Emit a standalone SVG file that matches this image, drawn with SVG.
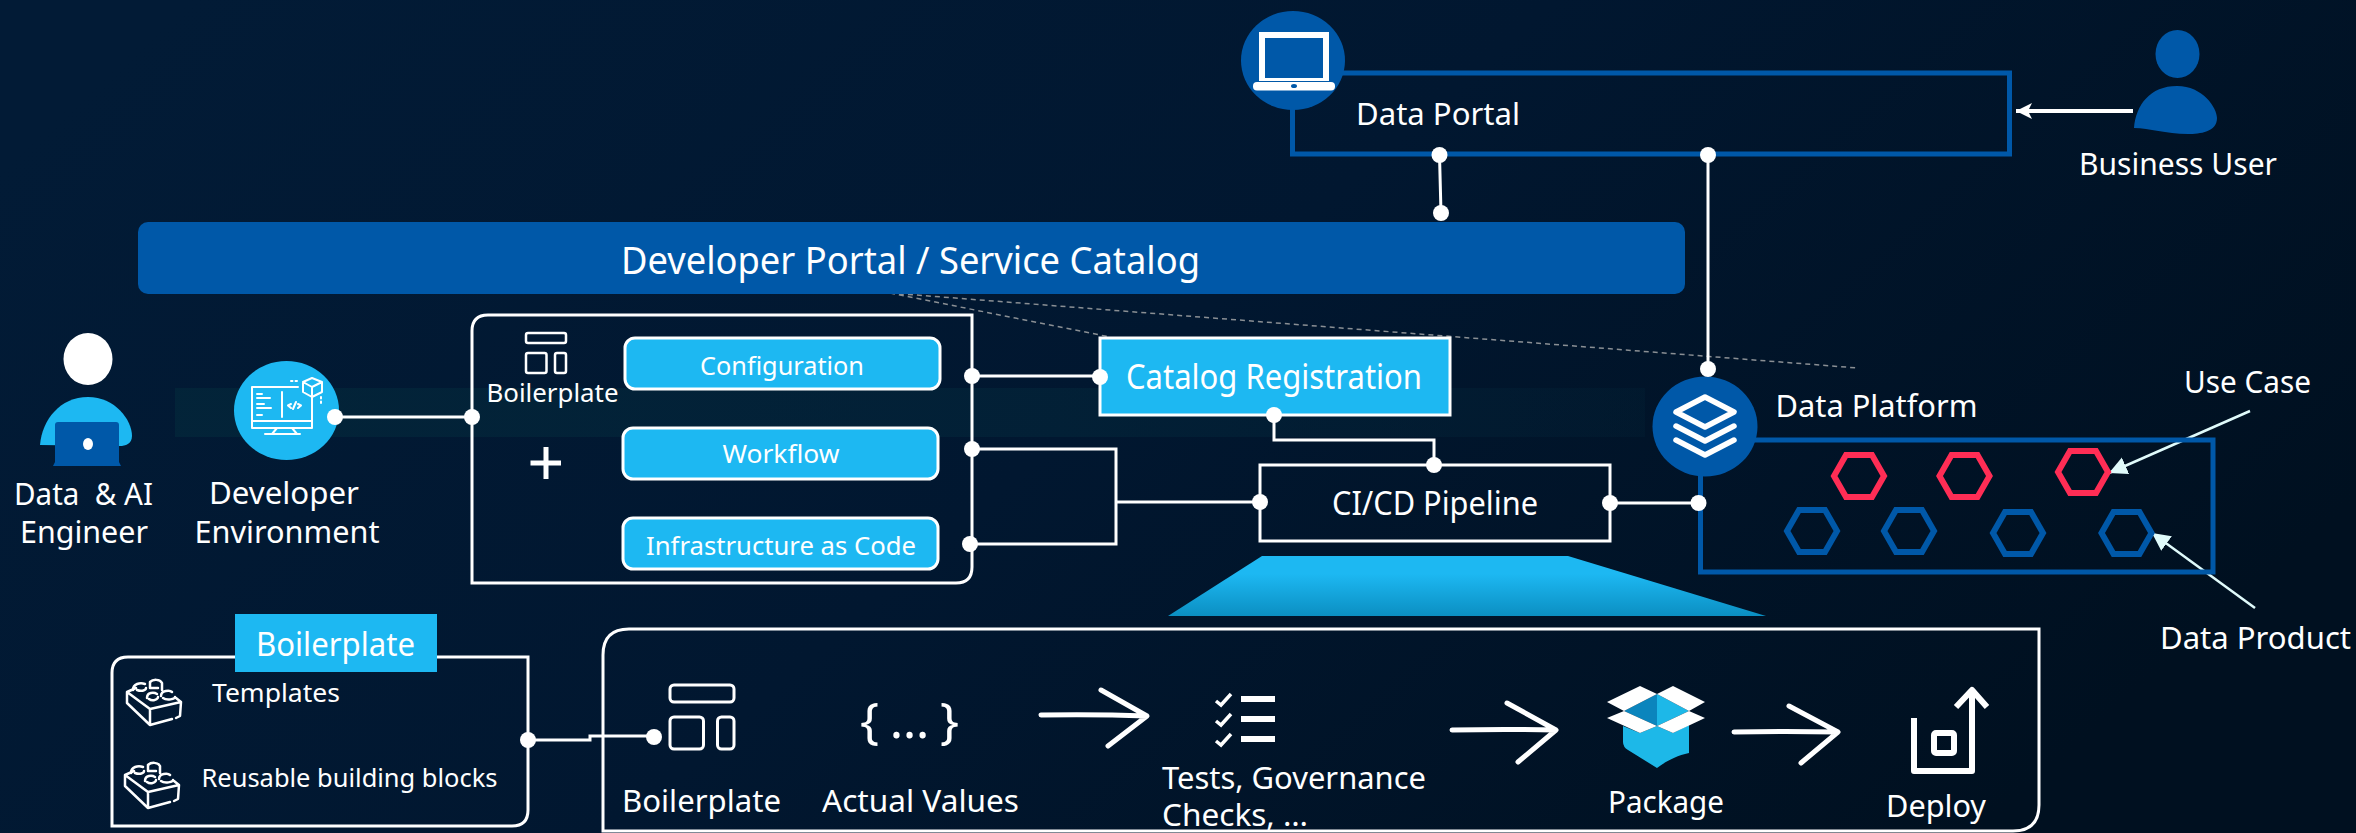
<svg xmlns="http://www.w3.org/2000/svg" width="2356" height="833" viewBox="0 0 2356 833">
<style>
text{font-family:"Noto Sans","Open Sans","Liberation Sans",sans-serif;font-weight:400;fill:#fff;white-space:pre}
.box{fill:none;stroke:#fff;stroke-width:3}
.pill{fill:#1db8f2;stroke:#fff;stroke-width:3}
.blue{fill:none;stroke:#0058a8;stroke-width:5}
.hexr{fill:none;stroke:#ff2d55;stroke-width:6}
.hexb{fill:none;stroke:#0058a8;stroke-width:6}
.line{fill:none;stroke:#fff;stroke-width:3}
.dot{fill:#fff}
.dash{stroke:#8a8f94;stroke-width:1.5;stroke-dasharray:5 4;fill:none}
.ic{fill:none;stroke:#fff;stroke-width:3;stroke-linecap:round;stroke-linejoin:round}
.hand{fill:none;stroke:#fff;stroke-width:5;stroke-linecap:round;stroke-linejoin:round}
</style>
<defs>
<linearGradient id="bg" x1="0" y1="0.2" x2="1" y2="0.6"><stop offset="0" stop-color="#021b36"/><stop offset="0.5" stop-color="#011730"/><stop offset="1" stop-color="#001020"/></linearGradient>
<linearGradient id="trap" x1="0" y1="0" x2="0" y2="1"><stop offset="0.3" stop-color="#1db8f2"/><stop offset="1" stop-color="#0b8fc2"/></linearGradient>
<linearGradient id="band"><stop offset="0" stop-color="#03263a" stop-opacity="0.8"/><stop offset="0.6" stop-color="#03263a" stop-opacity="0.6"/><stop offset="1" stop-color="#03263a" stop-opacity="0.25"/></linearGradient>
<marker id="ah" markerUnits="userSpaceOnUse" markerWidth="18" markerHeight="18" refX="16" refY="8" orient="auto"><path d="M0 0L16 8L0 16L4 8Z" fill="#fff"/></marker>
<marker id="ac" markerUnits="userSpaceOnUse" markerWidth="20" markerHeight="20" refX="18" refY="9" orient="auto"><path d="M0 0L18 9L0 18Z" fill="#e0fbfb"/></marker>
<path id="hex" d="M-13 -21H13L25 0L13 21H-13L-25 0Z"/>
<g id="lego" class="ic" style="stroke-width:2.500">
<path d="M136 688L127 692V703L150 725L172 719M176 718L180 716L181 702L176 698M150 725V709L127 692M150 709L181 702"/>
<path d="M133 690C133 684 140 682 145 684M137 690C142 692 146 690 146 688M150 682C153 679 160 679 162 683V690M150 682V688H158M147 698C147 692 154 692 157 694M149 699C153 702 158 699 158 697M161 696C161 690 170 690 172 692M163 698C167 701 175 699 175 697"/>
</g>
</defs>
<rect width="2356" height="833" fill="url(#bg)"/>
<rect x="175" y="388" width="1470" height="49" fill="url(#band)"/>
<polygon points="1262,556 1568,556 1766,616 1168,616" fill="url(#trap)"/>

<g id="connectors">
<path class="dash" d="M890 293L1110 337M890 293L1858 368"/>
<path class="line" d="M1439.500 155L1441 213M1708 155V369"/>
<path class="line" d="M335 417H472"/>
<path class="line" d="M972 376H1100"/>
<path class="line" d="M972 449H1116V544H970M1116 502H1260"/>
<path class="line" d="M1274 415V440H1434V465"/>
<path class="line" d="M1610 503H1698"/>
<path class="line" d="M528 740H590V736H654"/>
<path d="M2133 111H2016" stroke="#fff" stroke-width="4" fill="none" marker-end="url(#ah)"/>
<path d="M2250 411L2109 473" stroke="#e0fbfb" stroke-width="2.500" fill="none" marker-end="url(#ac)"/>
<path d="M2255 608L2152 533" stroke="#e0fbfb" stroke-width="2.500" fill="none" marker-end="url(#ac)"/>
</g>

<g id="data-portal">
<rect class="blue" x="1292.500" y="73" width="717" height="81"/>
<ellipse cx="1293" cy="60.500" rx="52" ry="49.500" fill="#0058a8"/>
<path d="M1259 32H1329V81H1259ZM1265 38V78H1323V38Z" fill="#fff" fill-rule="evenodd"/>
<rect x="1253" y="82" width="82" height="8.500" rx="4" fill="#fff"/>
<ellipse cx="1294" cy="86" rx="3" ry="2" fill="#0058a8"/>
<text x="1356" y="125" font-size="30" textLength="164" lengthAdjust="spacingAndGlyphs">Data Portal</text>
</g>

<g id="business-user">
<ellipse cx="2177.500" cy="54" rx="22" ry="24" fill="#0058a8"/>
<path d="M2134 128C2136 105 2150 86 2177 86C2203 86 2217 108 2217 118C2217 132 2200 134 2188 134C2165 134 2150 128 2134 128Z" fill="#0058a8"/>
<text x="2079" y="175" font-size="30" textLength="198" lengthAdjust="spacingAndGlyphs">Business User</text>
</g>

<g id="developer-portal">
<rect x="138" y="222" width="1547" height="72" rx="10" fill="#0058a8"/>
<text x="621" y="274" font-size="38" textLength="579" lengthAdjust="spacingAndGlyphs">Developer Portal / Service Catalog</text>
</g>

<g id="engineer">
<ellipse cx="88" cy="359" rx="24.500" ry="26" fill="#fff"/>
<path d="M40 445C42 420 60 397 88 397C115 397 132 420 132 436C132 444 125 446 120 446Z" fill="#1db8f2"/>
<path d="M58 422H116Q119 422 119 425V462L121 466H53L55 462V425Q55 422 58 422Z" fill="#0058a8"/>
<ellipse cx="88" cy="444" rx="5" ry="6" fill="#fff"/>
<text x="14" y="505" font-size="31" textLength="139" lengthAdjust="spacingAndGlyphs">Data  &amp; AI</text>
<text x="20" y="543" font-size="31" textLength="128" lengthAdjust="spacingAndGlyphs">Engineer</text>
</g>

<g id="developer-environment">
<ellipse cx="286.500" cy="410.500" rx="52.500" ry="49.500" fill="#1db8f2"/>
<g class="ic" style="stroke-width:2">
<path d="M298 387H252V428H312V392"/>
<path d="M252 421H312M282 392V417M277 428L272 434M292 428L297 434M265 434H300"/>
<path d="M257 394H262M257 398H270M257 404H264M257 408H271M257 415H262"/>
<path d="M291 404L288 405.500L291 408M298 404L301 405.500L298 408M296 402L293 409"/>
<path d="M312 378L322 382V392L312 397L303 392V382ZM303 382L312 387L322 382M312 387V397"/>
<path d="M291 381H299M321 397V406" stroke-dasharray="1.500 3"/>
</g>
<text x="209" y="504" font-size="31" textLength="150" lengthAdjust="spacingAndGlyphs">Developer</text>
<text x="194.500" y="543" font-size="31" textLength="185" lengthAdjust="spacingAndGlyphs">Environment</text>
</g>

<g id="boilerplate-group">
<path class="box" d="M488 315H972V567Q972 583 956 583H472V331Q472 315 488 315Z"/>
<g class="ic" style="stroke-width:2.500">
<rect x="526" y="333" width="40" height="10" rx="2"/>
<rect x="526" y="353" width="20.500" height="20" rx="2"/>
<rect x="555" y="353" width="11" height="20" rx="2"/>
</g>
<text x="486.500" y="402" font-size="26" textLength="132" lengthAdjust="spacingAndGlyphs">Boilerplate</text>
<path d="M530.500 463H561M546 447V479" stroke="#fff" stroke-width="5" fill="none"/>
</g>
<g id="configuration">
<rect class="pill" x="625" y="338" width="315" height="51" rx="10"/>
<text x="700" y="375" font-size="26" textLength="164" lengthAdjust="spacingAndGlyphs">Configuration</text>
</g>
<g id="workflow">
<rect class="pill" x="623" y="428" width="315" height="51" rx="10"/>
<text x="722.500" y="463" font-size="26" textLength="117" lengthAdjust="spacingAndGlyphs">Workflow</text>
</g>
<g id="iac">
<rect class="pill" x="623" y="518" width="315" height="51" rx="10"/>
<text x="646" y="555" font-size="26" textLength="270" lengthAdjust="spacingAndGlyphs">Infrastructure as Code</text>
</g>

<g id="catalog-registration">
<rect class="pill" x="1100" y="338" width="350" height="77"/>
<text x="1126" y="389" font-size="34" textLength="296" lengthAdjust="spacingAndGlyphs">Catalog Registration</text>
</g>
<g id="cicd-pipeline">
<rect class="box" x="1260" y="465" width="350" height="76"/>
<text x="1332" y="515" font-size="32" textLength="206" lengthAdjust="spacingAndGlyphs">CI/CD Pipeline</text>
</g>

<g id="data-platform">
<rect class="blue" x="1700.500" y="440" width="512.500" height="132"/>
<ellipse cx="1705" cy="426.500" rx="52.500" ry="50" fill="#0058a8"/>
<g fill="none" stroke="#fff" stroke-width="5.500" stroke-linecap="round" stroke-linejoin="round">
<path d="M1705 397L1734 412L1705 427L1676 412Z"/>
<path d="M1676 426L1705 441L1734 426M1676 440L1705 455L1734 440"/>
</g>
<text x="1775.500" y="417" font-size="30" textLength="202" lengthAdjust="spacingAndGlyphs">Data Platform</text>
<use href="#hex" class="hexr" x="1859" y="476"/>
<use href="#hex" class="hexr" x="1964.500" y="476"/>
<use href="#hex" class="hexr" x="2083" y="472"/>
<use href="#hex" class="hexb" x="1812" y="531"/>
<use href="#hex" class="hexb" x="1909" y="531"/>
<use href="#hex" class="hexb" x="2018" y="533"/>
<use href="#hex" class="hexb" x="2126.500" y="533"/>
<text x="2184" y="393" font-size="30" textLength="127" lengthAdjust="spacingAndGlyphs">Use Case</text>
<text x="2160" y="649" font-size="30" textLength="191" lengthAdjust="spacingAndGlyphs">Data Product</text>
</g>

<g id="boilerplate-detail">
<path class="box" d="M128 657H528V810Q528 826 512 826H112V673Q112 657 128 657Z"/>
<rect x="235" y="614" width="202" height="58" fill="#1db8f2"/>
<text x="256" y="656" font-size="32" textLength="159" lengthAdjust="spacingAndGlyphs">Boilerplate</text>
<use href="#lego"/>
<use href="#lego" x="-2" y="83"/>
<text x="212" y="702" font-size="26" textLength="128" lengthAdjust="spacingAndGlyphs">Templates</text>
<text x="201.500" y="787" font-size="26" textLength="296" lengthAdjust="spacingAndGlyphs">Reusable building blocks</text>
</g>

<g id="pipeline-steps">
<path class="box" d="M629 629H2039V805Q2039 831 2013 831H603V655Q603 629 629 629Z"/>
<g class="ic">
<rect x="670" y="685" width="64" height="17" rx="4"/>
<rect x="670" y="717" width="33.500" height="32" rx="4"/>
<rect x="717.500" y="717" width="16.500" height="32" rx="4"/>
</g>
<text x="622" y="812" font-size="31" textLength="159" lengthAdjust="spacingAndGlyphs">Boilerplate</text>
<text x="860" y="738" font-size="50" textLength="99" lengthAdjust="spacing">{ … }</text>
<text x="822" y="812" font-size="31" textLength="197" lengthAdjust="spacingAndGlyphs">Actual Values</text>
<path class="hand" d="M1041 715Q1095 714 1147 716L1101 690M1147 716L1108 746"/>
<g fill="none" stroke="#fff" stroke-width="3.500">
<path d="M1216 701L1221 705L1231 694M1216 721L1221 725L1231 714M1216 741L1221 745L1231 734"/>
</g>
<path d="M1241 696H1275V702H1241ZM1241 716H1275V722H1241ZM1241 736H1275V742H1241Z" fill="#fff"/>
<text x="1162" y="789" font-size="31" textLength="264" lengthAdjust="spacingAndGlyphs">Tests, Governance</text>
<text x="1162" y="826" font-size="31" textLength="146" lengthAdjust="spacingAndGlyphs">Checks, …</text>
<path class="hand" d="M1452 730Q1505 729 1556 730L1507 703M1556 730L1518 762"/>
<path d="M1623 726L1640 733L1657 726L1673 733L1689 725V753C1675 756 1665 762 1657 768L1628 750Q1623 747 1623 742Z" fill="#1db8e8"/>
<path d="M1624 711L1657 694V726Z" fill="#0b85bd"/>
<path d="M1657 694L1689 711L1657 726Z" fill="#1db8e8"/>
<path d="M1607 702L1640 686L1657 694L1624 711ZM1657 694L1673 686L1705 702L1689 711ZM1624 711L1657 726L1640 733L1607 718ZM1689 711L1705 718L1673 733L1657 726Z" fill="#fff"/>
<text x="1608" y="813" font-size="31" textLength="116" lengthAdjust="spacingAndGlyphs">Package</text>
<path class="hand" d="M1734 732Q1785 731 1838 732L1789 706M1838 732L1801 763"/>
<g fill="none" stroke="#fff" stroke-width="6" stroke-linejoin="round">
<path d="M1914 718V771H1972V692M1956 707L1972 690L1987 707"/>
<rect x="1934" y="733" width="20" height="20" rx="2"/>
</g>
<text x="1886" y="817" font-size="31" textLength="100" lengthAdjust="spacingAndGlyphs">Deploy</text>
</g>

<g id="connector-dots">
<circle class="dot" cx="1439.500" cy="155" r="8"/><circle class="dot" cx="1441" cy="213" r="8"/>
<circle class="dot" cx="1708" cy="155" r="8"/><circle class="dot" cx="1708" cy="369" r="8"/>
<circle class="dot" cx="335" cy="417" r="8"/><circle class="dot" cx="472" cy="417" r="8"/>
<circle class="dot" cx="972" cy="376" r="8"/><circle class="dot" cx="972" cy="449" r="8"/><circle class="dot" cx="970" cy="544" r="8"/>
<circle class="dot" cx="1100" cy="377" r="8"/><circle class="dot" cx="1274" cy="415" r="8"/><circle class="dot" cx="1434" cy="465" r="8"/>
<circle class="dot" cx="1260" cy="502" r="8"/><circle class="dot" cx="1610" cy="503" r="8"/><circle class="dot" cx="1698.500" cy="503" r="8"/>
<circle class="dot" cx="528" cy="740" r="8"/><circle class="dot" cx="654" cy="737" r="8"/>
</g>
</svg>
